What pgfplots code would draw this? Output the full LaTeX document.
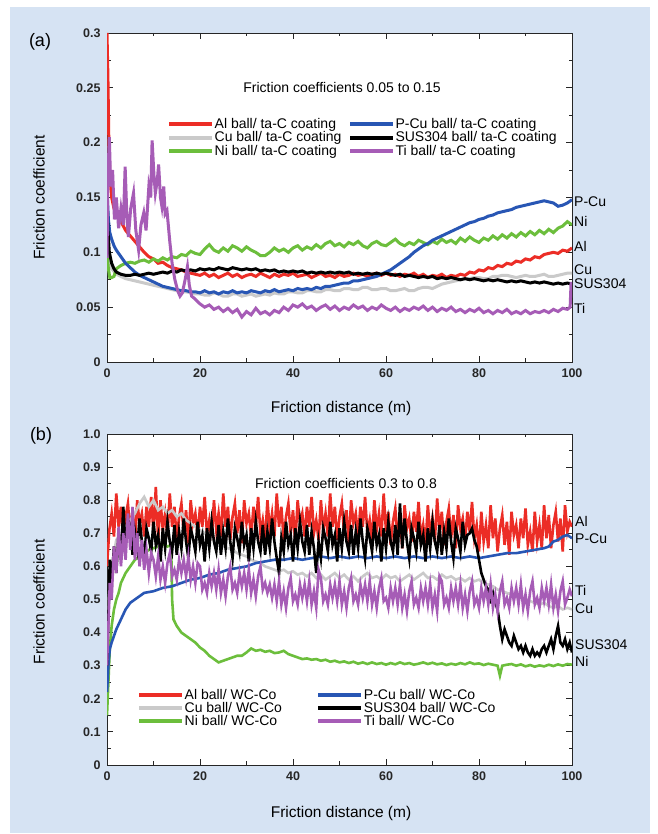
\documentclass[border=0pt]{standalone}
\usepackage{fontspec}
\setmainfont{Liberation Sans}
\usepackage{pgfplots}
\pgfplotsset{compat=1.18}
\definecolor{bgblue}{RGB}{214,227,243}
\definecolor{cAl}{RGB}{236,45,38}
\definecolor{cCu}{RGB}{202,202,202}
\definecolor{cNi}{RGB}{108,190,60}
\definecolor{cPCu}{RGB}{40,86,180}
\definecolor{cTi}{RGB}{166,92,182}
\newcommand{\fs}[1]{\fontsize{#1}{#1}\selectfont}
\pgfplotsset{
  myaxis/.style={
    scale only axis, anchor=south west, width=465pt,
    xmin=0, xmax=100, xtick={0,20,40,60,80,100}, xticklabels={0,20,40,60,80,100},
    minor x tick num=1, minor y tick num=1,
    tick align=inside, major tick length=6pt, minor tick length=3.5pt,
    axis line style={line width=0.9pt, black!85},
    every tick/.style={black!85, line width=0.8pt},
    tick label style={font=\fs{12.5}\bfseries, text=black!85},
    /pgf/number format/assume math mode=true,
    xticklabel style={yshift=-3pt},
    yticklabel style={xshift=-3pt},
    legend cell align=left,
    legend columns=2,
    legend image code/.code={\draw[##1,line width=4pt] (0pt,0pt) -- (43pt,0pt);},
    legend style={draw=none, fill=none, font=\fs{14}, inner sep=0pt, row sep=0.6pt,
      nodes={inner sep=0.5pt}, anchor=north west},
  }
}
\begin{document}
\begin{tikzpicture}[x=1pt,y=1pt]
\useasboundingbox (0,0) rectangle (657,834);
\fill[white] (0,0) rectangle (657,834);
\fill[bgblue] (10,1) rectangle (650,827);
\fill[white] (107,472) rectangle (572,801);
\fill[white] (107,69) rectangle (572,400);

% ---------------- panel (a) ----------------
\begin{axis}[myaxis, at={(107pt,472pt)}, height=329pt,
  ymin=0, ymax=0.3, ytick={0,0.05,0.1,0.15,0.2,0.25,0.3},
  yticklabels={0,0.05,0.1,0.15,0.2,0.25,0.3},
  legend style={at={(0.129,0.742)}, /tikz/every even column/.style={column sep=6pt}},
  every axis plot/.append style={line width=3pt}]
% Al
\addplot[cAl, forget plot] coordinates {(0,0.300) (0.2,0.26) (0.4,0.2) (0.6,0.17) (1,0.15) (1.5,0.14) (2,0.135) (3,0.128) (4,0.12) (5,0.115) (6,0.11) (7,0.105) (8,0.1) (9,0.096) (10,0.094) (11,0.09) (12,0.091) (13,0.088) (14,0.086) (15,0.085) (16,0.084) (17,0.082) (18,0.081) (19,0.08) (20,0.079) (21,0.081) (22,0.078) (23,0.08) (24,0.077) (25,0.079) (26,0.081) (27,0.078) (28,0.08) (29,0.077) (30,0.079) (31,0.08) (32,0.078) (33,0.081) (34,0.079) (35,0.077) (36,0.08) (37,0.078) (38,0.08) (39,0.079) (40,0.081) (41,0.078) (42,0.079) (43,0.08) (44,0.077) (45,0.079) (46,0.081) (47,0.078) (48,0.079) (49,0.077) (50,0.08) (51,0.078) (52,0.079) (53,0.081) (54,0.079) (55,0.08) (56,0.078) (57,0.08) (58,0.081) (59,0.079) (60,0.081) (61,0.079) (62,0.08) (63,0.078) (64,0.08) (65,0.079) (66,0.081) (67,0.078) (68,0.08) (69,0.077) (70,0.079) (71,0.078) (72,0.08) (73,0.077) (74,0.079) (75,0.078) (76,0.08) (77,0.079) (78,0.082) (79,0.081) (80,0.084) (81,0.083) (82,0.086) (83,0.085) (84,0.088) (85,0.087) (86,0.09) (87,0.089) (88,0.092) (89,0.091) (90,0.094) (91,0.093) (92,0.096) (93,0.095) (94,0.098) (95,0.099) (96,0.1) (97,0.099) (98,0.102) (99,0.101) (100,0.104)};
% Cu
\addplot[cCu, forget plot] coordinates {(0,0.1) (0.5,0.09) (1,0.085) (2,0.08) (3,0.078) (4,0.076) (5,0.075) (6,0.074) (7,0.073) (8,0.072) (9,0.071) (10,0.07) (11,0.069) (12,0.068) (13,0.067) (14,0.066) (15,0.065) (16,0.064) (17,0.064) (18,0.063) (19,0.062) (20,0.062) (21,0.061) (22,0.061) (23,0.063) (24,0.062) (25,0.06) (26,0.06) (27,0.062) (28,0.062) (29,0.06) (30,0.061) (31,0.062) (32,0.06) (33,0.061) (34,0.062) (35,0.061) (36,0.063) (37,0.062) (38,0.062) (39,0.064) (40,0.064) (41,0.063) (42,0.063) (43,0.065) (44,0.065) (45,0.064) (46,0.064) (47,0.066) (48,0.066) (49,0.065) (50,0.065) (51,0.067) (52,0.067) (53,0.066) (54,0.066) (55,0.068) (56,0.068) (57,0.066) (58,0.066) (59,0.067) (60,0.067) (61,0.065) (62,0.065) (63,0.066) (64,0.067) (65,0.065) (66,0.065) (67,0.067) (68,0.068) (69,0.068) (70,0.067) (71,0.069) (72,0.071) (73,0.072) (74,0.073) (75,0.074) (76,0.075) (77,0.076) (78,0.076) (79,0.077) (80,0.077) (81,0.076) (82,0.076) (83,0.078) (84,0.078) (85,0.079) (86,0.079) (87,0.078) (88,0.077) (89,0.078) (90,0.079) (91,0.078) (92,0.078) (93,0.079) (94,0.08) (95,0.078) (96,0.078) (97,0.079) (98,0.08) (99,0.081) (100,0.081)};
% Ni
\addplot[cNi, forget plot] coordinates {(0,0.10) (0.3,0.085) (0.6,0.077) (1,0.077) (1.5,0.078) (2,0.085) (3,0.088) (4,0.09) (5,0.091) (6,0.09) (7,0.092) (8,0.093) (9,0.091) (10,0.094) (11,0.092) (12,0.095) (13,0.093) (14,0.096) (15,0.095) (16,0.098) (17,0.097) (18,0.101) (19,0.099) (20,0.098) (21,0.103) (22,0.107) (23,0.102) (24,0.1) (25,0.104) (26,0.101) (27,0.106) (28,0.104) (29,0.101) (30,0.105) (31,0.102) (32,0.1) (33,0.097) (34,0.097) (35,0.1) (36,0.104) (37,0.101) (38,0.103) (39,0.1) (40,0.104) (41,0.106) (42,0.102) (43,0.105) (44,0.103) (45,0.107) (46,0.104) (47,0.108) (48,0.11) (49,0.106) (50,0.108) (51,0.105) (52,0.109) (53,0.107) (54,0.11) (55,0.106) (56,0.104) (57,0.108) (58,0.11) (59,0.107) (60,0.106) (61,0.109) (62,0.112) (63,0.108) (64,0.106) (65,0.109) (66,0.107) (67,0.111) (68,0.109) (69,0.107) (70,0.11) (71,0.108) (72,0.112) (73,0.109) (74,0.111) (75,0.108) (76,0.113) (77,0.11) (78,0.114) (79,0.111) (80,0.109) (81,0.113) (82,0.111) (83,0.115) (84,0.112) (85,0.116) (86,0.113) (87,0.117) (88,0.114) (89,0.118) (90,0.115) (91,0.119) (92,0.116) (93,0.12) (94,0.117) (95,0.121) (96,0.118) (97,0.122) (98,0.124) (99,0.128) (100,0.125)};
% P-Cu
\addplot[cPCu, forget plot] coordinates {(0,0.157) (0.3,0.13) (0.6,0.118) (1,0.112) (1.5,0.106) (2,0.102) (3,0.096) (4,0.09) (5,0.086) (6,0.082) (7,0.079) (8,0.077) (9,0.075) (10,0.073) (11,0.071) (12,0.069) (13,0.068) (14,0.067) (15,0.066) (16,0.065) (17,0.065) (18,0.064) (19,0.064) (20,0.063) (21,0.065) (22,0.063) (23,0.064) (24,0.062) (25,0.064) (26,0.063) (27,0.065) (28,0.063) (29,0.064) (30,0.063) (31,0.065) (32,0.064) (33,0.063) (34,0.065) (35,0.064) (36,0.066) (37,0.064) (38,0.065) (39,0.066) (40,0.065) (41,0.067) (42,0.066) (43,0.067) (44,0.066) (45,0.068) (46,0.067) (47,0.069) (48,0.069) (49,0.07) (50,0.071) (51,0.072) (52,0.072) (53,0.074) (54,0.074) (55,0.075) (56,0.076) (57,0.077) (58,0.078) (59,0.08) (60,0.082) (61,0.084) (62,0.087) (63,0.09) (64,0.093) (65,0.096) (66,0.1) (67,0.103) (68,0.106) (69,0.108) (70,0.111) (71,0.113) (72,0.115) (73,0.117) (74,0.119) (75,0.121) (76,0.123) (77,0.125) (78,0.127) (79,0.128) (80,0.13) (81,0.131) (82,0.133) (83,0.134) (84,0.136) (85,0.137) (86,0.138) (87,0.139) (88,0.141) (89,0.142) (90,0.143) (91,0.144) (92,0.145) (93,0.146) (94,0.147) (95,0.146) (96,0.145) (97,0.142) (98,0.143) (99,0.145) (100,0.148)};
% SUS304
\addplot[black, forget plot] coordinates {(0,0.155) (0.2,0.12) (0.5,0.1) (1,0.09) (1.5,0.085) (2,0.082) (3,0.08) (4,0.079) (5,0.079) (6,0.08) (7,0.079) (8,0.08) (9,0.081) (10,0.08) (11,0.081) (12,0.082) (13,0.081) (14,0.083) (15,0.082) (16,0.084) (17,0.083) (18,0.084) (19,0.083) (20,0.085) (21,0.084) (22,0.085) (23,0.084) (24,0.086) (25,0.085) (26,0.084) (27,0.086) (28,0.085) (29,0.084) (30,0.085) (31,0.084) (32,0.085) (33,0.083) (34,0.084) (35,0.083) (36,0.084) (37,0.082) (38,0.083) (39,0.082) (40,0.083) (41,0.082) (42,0.083) (43,0.081) (44,0.082) (45,0.081) (46,0.082) (47,0.081) (48,0.082) (49,0.081) (50,0.082) (51,0.081) (52,0.082) (53,0.08) (54,0.081) (55,0.08) (56,0.081) (57,0.08) (58,0.081) (59,0.08) (60,0.081) (61,0.08) (62,0.079) (63,0.08) (64,0.078) (65,0.079) (66,0.078) (67,0.077) (68,0.078) (69,0.077) (70,0.078) (71,0.076) (72,0.077) (73,0.076) (74,0.077) (75,0.076) (76,0.075) (77,0.076) (78,0.075) (79,0.076) (80,0.075) (81,0.074) (82,0.075) (83,0.074) (84,0.075) (85,0.074) (86,0.073) (87,0.074) (88,0.073) (89,0.074) (90,0.073) (91,0.072) (92,0.073) (93,0.072) (94,0.073) (95,0.072) (96,0.071) (97,0.072) (98,0.071) (99,0.072) (100,0.071)};
% Ti
\addplot[cTi, forget plot] coordinates {(0,0.095) (0.2,0.17) (0.5,0.205) (0.8,0.16) (1.2,0.175) (1.6,0.13) (2,0.15) (2.5,0.122) (3,0.14) (3.5,0.125) (3.9,0.178) (4.3,0.13) (4.6,0.114) (5.1,0.14) (5.7,0.154) (6.2,0.12) (6.8,0.102) (7.3,0.125) (7.9,0.136) (8.4,0.12) (9,0.16) (9.4,0.15) (9.7,0.202) (10.1,0.17) (10.4,0.154) (10.8,0.165) (11.1,0.18) (11.5,0.15) (11.8,0.142) (12.2,0.16) (12.5,0.135) (12.9,0.138) (13.5,0.11) (14,0.09) (14.6,0.075) (15.2,0.065) (15.7,0.06) (16.2,0.063) (16.8,0.075) (17.3,0.087) (17.7,0.07) (18.2,0.06) (18.8,0.058) (19.5,0.055) (20,0.053) (21,0.05) (22,0.052) (23,0.048) (24,0.05) (25,0.046) (26,0.049) (27,0.045) (28,0.048) (29,0.041) (30,0.046) (31,0.043) (32,0.049) (33,0.044) (34,0.046) (35,0.043) (36,0.047) (37,0.045) (38,0.05) (39,0.047) (40,0.052) (41,0.05) (42,0.053) (43,0.049) (44,0.051) (45,0.047) (46,0.05) (47,0.052) (48,0.048) (49,0.051) (50,0.047) (51,0.05) (52,0.048) (53,0.052) (54,0.049) (55,0.051) (56,0.047) (57,0.05) (58,0.048) (59,0.052) (60,0.049) (61,0.047) (62,0.05) (63,0.046) (64,0.049) (65,0.047) (66,0.05) (67,0.048) (68,0.051) (69,0.047) (70,0.05) (71,0.046) (72,0.049) (73,0.047) (74,0.05) (75,0.046) (76,0.048) (77,0.045) (78,0.048) (79,0.046) (80,0.049) (81,0.045) (82,0.047) (83,0.044) (84,0.047) (85,0.045) (86,0.048) (87,0.044) (88,0.046) (89,0.044) (90,0.047) (91,0.044) (92,0.046) (93,0.045) (94,0.047) (95,0.045) (96,0.048) (97,0.046) (98,0.049) (99,0.048) (99.6,0.05) (99.8,0.073)};
\addlegendimage{cAl}\addlegendentry{Al ball/ ta-C coating}
\addlegendimage{cPCu}\addlegendentry{P-Cu ball/ ta-C coating}
\addlegendimage{cCu}\addlegendentry{Cu ball/ ta-C coating}
\addlegendimage{black}\addlegendentry{SUS304 ball/ ta-C coating}
\addlegendimage{cNi}\addlegendentry{Ni ball/ ta-C coating}
\addlegendimage{cTi}\addlegendentry{Ti ball/ ta-C coating}
\end{axis}

% ---------------- panel (b) ----------------
\begin{axis}[myaxis, at={(107pt,69pt)}, height=331pt,
  ymin=0, ymax=1, ytick={0,0.1,0.2,0.3,0.4,0.5,0.6,0.7,0.8,0.9,1},
  yticklabels={0,0.1,0.2,0.3,0.4,0.5,0.6,0.7,0.8,0.9,1.0},
  legend style={at={(0.0645,0.232)}, /tikz/every even column/.style={column sep=34pt}},
  every axis plot/.append style={line width=2.6pt}]
% Al
\addplot[cAl, forget plot] coordinates {(0,0.60) (0.5,0.71) (1,0.76) (1.5,0.69) (2,0.82) (2.5,0.72) (3,0.78) (3.5,0.68) (4,0.75) (4.5,0.79) (5,0.70) (5.5,0.77) (6,0.67) (6.5,0.80) (7,0.73) (7.5,0.76) (8,0.69) (8.5,0.78) (9,0.72) (9.5,0.81) (10,0.70) (10.5,0.84) (11,0.68)
(11.5,0.80) (12,0.71) (12.5,0.76) (13,0.69) (13.5,0.82) (14,0.72) (14.5,0.78) (15,0.68) (15.5,0.75) (16,0.79) (16.5,0.70) (17,0.77) (17.5,0.67) (18,0.80) (18.5,0.73) (19,0.76) (19.5,0.69) (20,0.78) (20.5,0.72) (21,0.81) (21.5,0.70) (22,0.74) (22.5,0.68)
(23,0.80) (23.5,0.71) (24,0.76) (24.5,0.69) (25,0.82) (25.5,0.72) (26,0.78) (26.5,0.68) (27,0.75) (27.5,0.79) (28,0.70) (28.5,0.77) (29,0.67) (29.5,0.80) (30,0.73) (30.5,0.76) (31,0.69) (31.5,0.78) (32,0.72) (32.5,0.81) (33,0.70) (33.5,0.74) (34,0.68)
(34.5,0.80) (35,0.71) (35.5,0.76) (36,0.69) (36.5,0.82) (37,0.72) (37.5,0.78) (38,0.68) (38.5,0.75) (39,0.79) (39.5,0.70) (40,0.77) (40.5,0.67) (41,0.80) (41.5,0.73) (42,0.76) (42.5,0.69) (43,0.78) (43.5,0.72) (44,0.81) (44.5,0.70) (45,0.74) (45.5,0.68)
(46,0.80) (46.5,0.71) (47,0.76) (47.5,0.69) (48,0.82) (48.5,0.72) (49,0.78) (49.5,0.68) (50,0.75) (50.5,0.79) (51,0.70) (51.5,0.77) (52,0.67) (52.5,0.80) (53,0.73) (53.5,0.76) (54,0.69) (54.5,0.78) (55,0.72) (55.5,0.81) (56,0.70) (56.5,0.74) (57,0.68)
(57.5,0.80) (58,0.71) (58.5,0.76) (59,0.69) (59.5,0.82)
(60,0.705) (60.5,0.765) (61,0.665) (61.5,0.735) (62,0.775) (62.5,0.685) (63,0.755) (63.5,0.655) (64,0.785) (64.5,0.715) (65,0.745) (65.5,0.675) (66,0.765) (66.5,0.705) (67,0.795) (67.5,0.685) (68,0.725) (68.5,0.665)
(69,0.785) (69.5,0.695) (70,0.745) (70.5,0.675) (71,0.805) (71.5,0.705) (72,0.765) (72.5,0.665) (73,0.735) (73.5,0.775) (74,0.685) (74.5,0.755) (75,0.655) (75.5,0.785) (76,0.715) (76.5,0.745) (77,0.675) (77.5,0.765) (78,0.705) (78.5,0.795) (79,0.685) (79.5,0.725)
(80,0.645) (80.5,0.765) (81,0.675) (81.5,0.725) (82,0.655) (82.5,0.785) (83,0.685) (83.5,0.745) (84,0.645) (84.5,0.715) (85,0.755) (85.5,0.665) (86,0.735) (86.5,0.635) (87,0.765) (87.5,0.695) (88,0.725) (88.5,0.655) (89,0.745) (89.5,0.685) (90,0.775) (90.5,0.665) (91,0.705) (91.5,0.645)
(92,0.765) (92.5,0.675) (93,0.725) (93.5,0.655) (94,0.785) (94.5,0.685)
(95,0.755) (95.5,0.655) (96,0.725) (96.5,0.765) (97,0.675) (97.5,0.745) (98,0.645) (98.5,0.785) (99,0.705) (99.5,0.735) (100,0.72)};
% Cu
\addplot[cCu, forget plot] coordinates {(0,0.45) (1,0.6) (2,0.68) (3,0.7) (4,0.72) (5,0.74) (6,0.76) (7,0.79) (8,0.81) (9,0.78) (10,0.80) (11,0.77) (12,0.78) (13,0.76) (14,0.77) (15,0.75) (16,0.76) (17,0.74) (18,0.73) (19,0.72) (20,0.71) (21,0.70) (22,0.69) (23,0.68) (24,0.67) (25,0.66) (26,0.655) (27,0.65) (28,0.64) (29,0.635) (30,0.63) (31,0.62) (32,0.615) (33,0.61) (34,0.60) (35,0.595) (36,0.59) (37,0.585) (38,0.59) (39,0.58) (40,0.585) (41,0.575) (42,0.58) (43,0.57) (44,0.58) (45,0.565) (46,0.575) (47,0.56) (48,0.57) (49,0.58) (50,0.565) (51,0.575) (52,0.56) (53,0.57) (54,0.555) (55,0.57) (56,0.58) (57,0.565) (58,0.57) (59,0.56) (60,0.575) (61,0.565) (62,0.57) (63,0.555) (64,0.565) (65,0.575) (66,0.56) (67,0.57) (68,0.58) (69,0.565) (70,0.57) (71,0.56) (72,0.575) (73,0.565) (74,0.57) (75,0.56) (76,0.565) (77,0.555) (78,0.565) (79,0.555) (80,0.56) (81,0.55) (82,0.545) (83,0.54) (84,0.53) (85,0.525) (86,0.52) (87,0.515) (88,0.51) (89,0.505) (90,0.50) (91,0.495) (92,0.49) (93,0.485) (94,0.49) (95,0.48) (96,0.475) (97,0.48) (98,0.47) (99,0.475) (100,0.47)};
% Ni
\addplot[cNi, forget plot] coordinates {(0,0.15) (0.3,0.25) (0.6,0.35) (1,0.42) (1.5,0.47) (2,0.50) (2.5,0.52) (3,0.55) (4,0.58) (5,0.60) (6,0.62) (7,0.63) (8,0.64) (9,0.65) (10,0.655) (11,0.66) (12,0.668) (13,0.66) (13.8,0.665) (14,0.50) (14.3,0.44) (15,0.42) (16,0.40) (17,0.39) (18,0.38) (19,0.37) (20,0.355) (21,0.345) (22,0.33) (23,0.32) (24,0.31) (25,0.315) (26,0.32) (27,0.325) (28,0.33) (29,0.33) (30,0.34) (31,0.352) (32,0.345) (33,0.348) (34,0.342) (35,0.345) (36,0.338) (37,0.34) (38,0.345) (39,0.335) (40,0.33) (41,0.325) (42,0.32) (43,0.322) (44,0.318) (45,0.32) (46,0.315) (47,0.318) (48,0.312) (49,0.315) (50,0.31) (51,0.313) (52,0.308) (53,0.312) (54,0.306) (55,0.31) (56,0.305) (57,0.31) (58,0.305) (59,0.308) (60,0.303) (61,0.308) (62,0.304) (63,0.31) (64,0.305) (65,0.308) (66,0.303) (67,0.306) (68,0.31) (69,0.305) (70,0.309) (71,0.304) (72,0.307) (73,0.302) (74,0.306) (75,0.303) (76,0.308) (77,0.304) (78,0.31) (79,0.305) (80,0.307) (81,0.302) (82,0.306) (83,0.303) (84,0.30) (84.5,0.27) (85,0.30) (86,0.303) (87,0.305) (88,0.30) (89,0.304) (90,0.298) (91,0.302) (92,0.297) (93,0.301) (94,0.298) (95,0.303) (96,0.299) (97,0.304) (98,0.3) (99,0.305) (100,0.303)};
% P-Cu
\addplot[cPCu, forget plot] coordinates {(0,0.22) (0.3,0.30) (0.6,0.35) (1,0.37) (1.5,0.39) (2,0.41) (3,0.44) (4,0.47) (5,0.49) (6,0.50) (7,0.51) (8,0.52) (10,0.525) (12,0.535) (14,0.54) (16,0.55) (18,0.56) (20,0.565) (22,0.575) (24,0.58) (26,0.59) (28,0.595) (30,0.60) (32,0.61) (34,0.615) (36,0.62) (38,0.62) (40,0.625) (42,0.62) (44,0.625) (46,0.63) (48,0.625) (50,0.63) (52,0.625) (54,0.63) (56,0.625) (58,0.63) (60,0.625) (62,0.63) (64,0.625) (66,0.63) (68,0.625) (70,0.63) (72,0.625) (74,0.63) (76,0.625) (78,0.63) (80,0.625) (82,0.63) (84,0.635) (86,0.64) (88,0.64) (90,0.645) (92,0.65) (94,0.655) (95,0.66) (96,0.675) (97,0.68) (98,0.69) (99,0.695) (100,0.685)};
% SUS304
\addplot[black, forget plot] coordinates {(0,0.30) (0.3,0.45) (0.6,0.62) (1,0.55) (1.5,0.66) (2,0.58) (2.5,0.70) (3,0.62) (3.5,0.78) (4,0.66) (4.5,0.74)
(5,0.725) (5.5,0.635) (6,0.705) (6.5,0.655) (7,0.745) (7.5,0.675) (8,0.625) (8.5,0.715) (9,0.685) (9.5,0.645) (10,0.735) (10.5,0.665) (11,0.695) (11.5,0.615) (12,0.715) (12.5,0.655) (13,0.735) (13.5,0.675) (14,0.645)
(14.5,0.725) (15,0.635) (15.5,0.705) (16,0.655) (16.5,0.745) (17,0.675) (17.5,0.625) (18,0.715) (18.5,0.685) (19,0.645) (19.5,0.735) (20,0.665) (20.5,0.695) (21,0.615) (21.5,0.715) (22,0.655) (22.5,0.735) (23,0.675) (23.5,0.645)
(24,0.725) (24.5,0.635) (25,0.705) (25.5,0.655) (26,0.745) (26.5,0.675) (27,0.625) (27.5,0.715) (28,0.685) (28.5,0.645) (29,0.735) (29.5,0.665) (30,0.695) (30.5,0.615) (31,0.715) (31.5,0.655) (32,0.735) (32.5,0.675) (33,0.645)
(33.5,0.725) (34,0.635) (34.5,0.705) (35,0.655) (35.5,0.745) (36,0.675) (36.5,0.625) (37,0.58) (37.5,0.685) (38,0.645) (38.5,0.735) (39,0.665) (39.5,0.695) (40,0.615) (40.5,0.715) (41,0.655) (41.5,0.735) (42,0.675) (42.5,0.645)
(43,0.725) (43.5,0.635) (44,0.705) (44.5,0.655) (45,0.58) (45.5,0.675) (46,0.625) (46.5,0.715) (47,0.685) (47.5,0.645) (48,0.735) (48.5,0.665) (49,0.695) (49.5,0.615) (50,0.715) (50.5,0.655) (51,0.735) (51.5,0.675) (52,0.645)
(52.5,0.725) (53,0.635) (53.5,0.705) (54,0.655) (54.5,0.745) (55,0.675) (55.5,0.625) (56,0.715) (56.5,0.685) (57,0.645) (57.5,0.735) (58,0.665) (58.5,0.695) (59,0.615) (59.5,0.715) (60,0.655) (60.5,0.735) (61,0.675) (61.5,0.645)
(62,0.725) (62.5,0.635) (63,0.79) (63.5,0.655) (64,0.745) (64.5,0.675) (65,0.625) (65.5,0.715) (66,0.685) (66.5,0.645) (67,0.735) (67.5,0.665) (68,0.695) (68.5,0.615) (69,0.715) (69.5,0.655) (70,0.735) (70.5,0.675) (71,0.645)
(71.5,0.725) (72,0.635) (72.5,0.705) (73,0.655) (73.5,0.745) (74,0.675) (74.5,0.625) (75,0.715) (75.5,0.685) (76,0.645) (76.5,0.735) (77,0.665) (77.5,0.695) (78,0.70) (78.5,0.715) (79,0.68) (79.5,0.66) (80,0.62)
(80.5,0.58) (81,0.56) (81.5,0.54) (82,0.53) (82.5,0.50) (83,0.52) (83.5,0.49) (84,0.47) (84.5,0.42) (85,0.38) (85.5,0.41) (86,0.39) (86.5,0.37) (87,0.36) (87.5,0.39) (88,0.37) (88.5,0.35) (89,0.36) (89.5,0.34) (90,0.36) (90.5,0.34) (91,0.33) (91.5,0.35) (92,0.33) (92.5,0.34) (93,0.33) (93.5,0.35) (94,0.36) (94.5,0.34) (95,0.36) (95.5,0.38) (96,0.35) (96.5,0.39) (97,0.42) (97.5,0.37) (98,0.36) (98.5,0.38) (99,0.35) (99.5,0.37) (100,0.34)};
% Ti
\addplot[cTi, forget plot] coordinates {(0,0.30) (0.3,0.42) (0.6,0.55) (1,0.50) (1.5,0.66) (2,0.58) (2.5,0.72) (3,0.60) (3.5,0.70) (4,0.62) (4.5,0.76) (5,0.65) (5.5,0.78) (6,0.62) (6.5,0.70) (7,0.60) (7.5,0.68) (8,0.59) (8.5,0.65) (9,0.58) (9.5,0.64)
(10,0.62) (10.5,0.57) (11,0.63) (11.5,0.56) (12,0.60) (12.5,0.55) (13,0.61) (13.5,0.64) (14,0.57) (14.5,0.59) (15,0.56) (15.5,0.62) (16,0.58) (16.5,0.62) (17,0.57) (17.5,0.63) (18,0.56) (18.5,0.60) (19,0.55) (19.5,0.61)
(20,0.60) (20.5,0.53) (21,0.55) (21.5,0.52) (22,0.58) (22.5,0.54) (23,0.58) (23.5,0.53) (24,0.59) (24.5,0.52) (25,0.56) (25.5,0.51) (26,0.57) (26.5,0.60) (27,0.53) (27.5,0.55) (28,0.52) (28.5,0.58) (29,0.54) (29.5,0.58) (30,0.53) (30.5,0.59) (31,0.52) (31.5,0.56) (32,0.51) (32.5,0.57) (33,0.60) (33.5,0.53) (34,0.55) (34.5,0.52)
(35,0.545) (35.5,0.505) (36,0.545) (36.5,0.495) (37,0.555) (37.5,0.485) (38,0.525) (38.5,0.475) (39,0.535) (39.5,0.565) (40,0.495) (40.5,0.515) (41,0.485) (41.5,0.545) (42,0.505) (42.5,0.545) (43,0.495) (43.5,0.555) (44,0.485) (44.5,0.525) (45,0.475) (45.5,0.59) (46,0.565) (46.5,0.495) (47,0.515) (47.5,0.485) (48,0.545) (48.5,0.505) (49,0.545) (49.5,0.495) (50,0.555) (50.5,0.485) (51,0.525) (51.5,0.475) (52,0.535) (52.5,0.565) (53,0.495) (53.5,0.515) (54,0.485) (54.5,0.545) (55,0.505) (55.5,0.545) (56,0.495) (56.5,0.555) (57,0.485) (57.5,0.525) (58,0.475) (58.5,0.535) (59,0.565) (59.5,0.495)
(60,0.505) (60.5,0.475) (61,0.535) (61.5,0.495) (62,0.535) (62.5,0.485) (63,0.545) (63.5,0.475) (64,0.515) (64.5,0.465) (65,0.525) (65.5,0.555) (66,0.485) (66.5,0.505) (67,0.475) (67.5,0.535) (68,0.495) (68.5,0.535) (69,0.485) (69.5,0.545) (70,0.475) (70.5,0.515) (71,0.465) (71.5,0.57) (72,0.555) (72.5,0.485) (73,0.505) (73.5,0.475) (74,0.535) (74.5,0.495) (75,0.535) (75.5,0.485) (76,0.545) (76.5,0.475) (77,0.515) (77.5,0.465) (78,0.525) (78.5,0.555) (79,0.485) (79.5,0.505) (80,0.475) (80.5,0.535) (81,0.495) (81.5,0.535) (82,0.485) (82.5,0.545) (83,0.475) (83.5,0.515) (84,0.465) (84.5,0.525) (85,0.555) (85.5,0.485) (86,0.505) (86.5,0.475) (87,0.535) (87.5,0.495) (88,0.535) (88.5,0.485) (89,0.545) (89.5,0.475) (90,0.515) (90.5,0.465) (91,0.525) (91.5,0.555) (92,0.485) (92.5,0.505) (93,0.475) (93.5,0.535) (94,0.495) (94.5,0.535) (95,0.485) (95.5,0.545) (96,0.475) (96.5,0.515) (97,0.465) (97.5,0.525) (98,0.555) (98.5,0.485) (99,0.505) (99.5,0.53) (100,0.51)};
\addlegendimage{cAl}\addlegendentry{Al ball/ WC-Co}
\addlegendimage{cPCu}\addlegendentry{P-Cu ball/ WC-Co}
\addlegendimage{cCu}\addlegendentry{Cu ball/ WC-Co}
\addlegendimage{black}\addlegendentry{SUS304 ball/ WC-Co}
\addlegendimage{cNi}\addlegendentry{Ni ball/ WC-Co}
\addlegendimage{cTi}\addlegendentry{Ti ball/ WC-Co}
\end{axis}

% ---------------- texts ----------------
\node[font=\fs{18}] at (40,792) {(a)};
\node[font=\fs{18}] at (41,398) {(b)};
\node[font=\fs{15.5}, rotate=90] at (39,636.5) {Friction coefficient};
\node[font=\fs{15.5}, rotate=90] at (39,232) {Friction coefficient};
\node[font=\fs{15.5}] at (341,426) {Friction distance (m)};
\node[font=\fs{15.5}] at (341,21) {Friction distance (m)};
\node[font=\fs{14}] at (342,746) {Friction coefficients 0.05 to 0.15};
\node[font=\fs{14}] at (346,350) {Friction coefficients 0.3 to 0.8};
\begin{scope}[every node/.style={font=\fs{14}, anchor=west, inner sep=0pt}]
\node at (574,632.3) {P-Cu};
\node at (574,612.3) {Ni};
\node at (574,587.3) {Al};
\node at (574,564) {Cu};
\node at (574,550.7) {SUS304};
\node at (574,526) {Ti};
\node at (575,312.3) {Al};
\node at (575,295.7) {P-Cu};
\node at (575,244) {Ti};
\node at (575,225.7) {Cu};
\node at (575,189) {SUS304};
\node at (575,172.3) {Ni};
\end{scope}
\end{tikzpicture}
\end{document}
